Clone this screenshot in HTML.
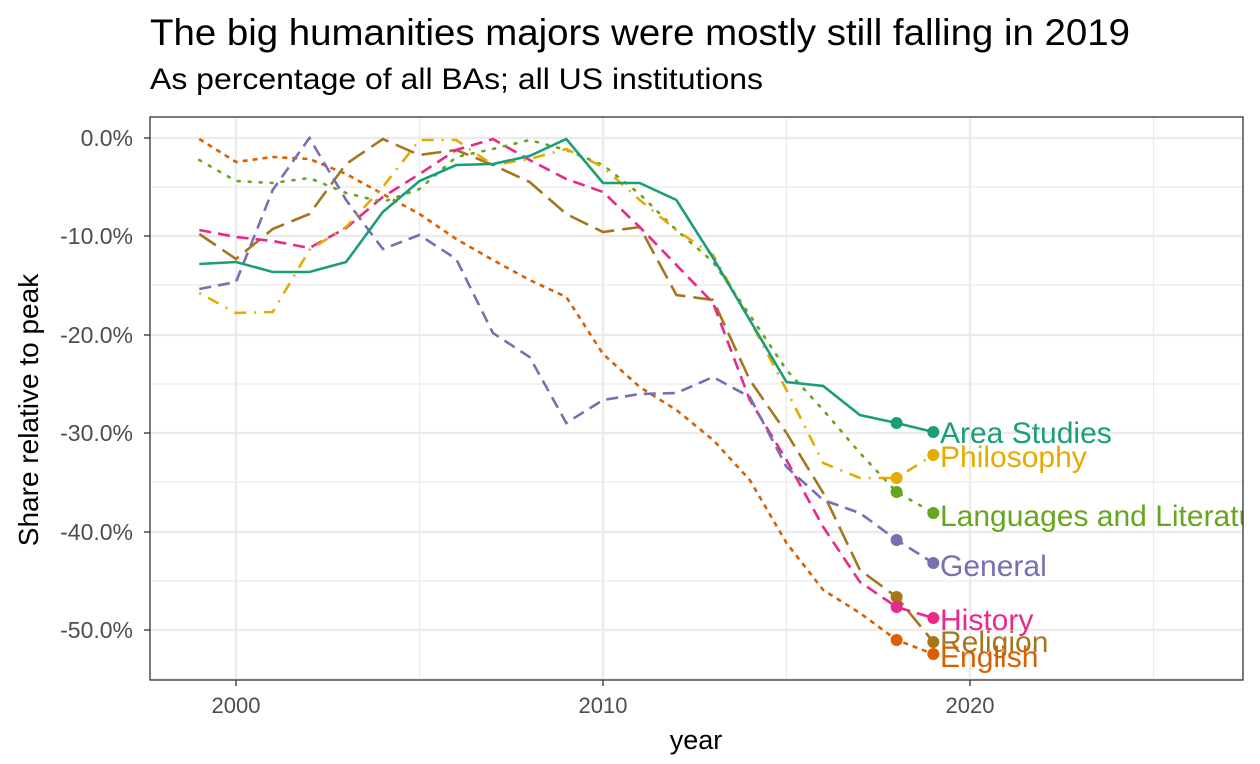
<!DOCTYPE html>
<html><head><meta charset="utf-8"><style>
html,body{margin:0;padding:0;background:#fff;}
svg{display:block;font-family:"Liberation Sans",sans-serif;}
</style></head><body>
<svg width="1260" height="764" xmlns="http://www.w3.org/2000/svg">
<text x="150" y="45" font-size="37.5" fill="#000" textLength="980" lengthAdjust="spacingAndGlyphs">The big humanities majors were mostly still falling in 2019</text>
<text x="150" y="89" font-size="30" fill="#000" textLength="613" lengthAdjust="spacingAndGlyphs">As percentage of all BAs; all US institutions</text>
<defs><clipPath id="c"><rect x="150" y="117" width="1093" height="563"/></clipPath></defs>
<g stroke="#ebebeb" stroke-width="1.2">
<line x1="419.5" x2="419.5" y1="117" y2="680"/><line x1="786.5" x2="786.5" y1="117" y2="680"/><line x1="1153.5" x2="1153.5" y1="117" y2="680"/>
<line x1="150" x2="1243" y1="187" y2="187"/><line x1="150" x2="1243" y1="285" y2="285"/><line x1="150" x2="1243" y1="384" y2="384"/><line x1="150" x2="1243" y1="482" y2="482"/><line x1="150" x2="1243" y1="581" y2="581"/><line x1="150" x2="1243" y1="679" y2="679"/>
</g>
<g stroke="#ebebeb" stroke-width="2.4">
<line x1="236" x2="236" y1="117" y2="680"/><line x1="603" x2="603" y1="117" y2="680"/><line x1="970" x2="970" y1="117" y2="680"/>
<line x1="150" x2="1243" y1="138" y2="138"/><line x1="150" x2="1243" y1="236" y2="236"/><line x1="150" x2="1243" y1="335" y2="335"/><line x1="150" x2="1243" y1="433" y2="433"/><line x1="150" x2="1243" y1="532" y2="532"/><line x1="150" x2="1243" y1="630" y2="630"/>
</g>
<g clip-path="url(#c)" fill="none" stroke-width="2.6">
<polyline stroke="#d95f02" stroke-dasharray="5,5" points="199.3,139 236,162 272.7,157 309.4,159 346.1,174 382.8,194 419.5,214 456.2,239 492.9,260 529.6,280 566.3,297 603,354 639.7,387 676.4,410 713.1,440 749.8,480 786.5,543 823.2,590 859.9,613 896.6,640 933.3,654"/>
<polyline stroke="#a6761d" stroke-dasharray="20,8" points="199.3,234 236,259 272.7,229 309.4,214 346.1,164 382.8,139 419.5,155 456.2,150 492.9,165 529.6,182 566.3,214 603,232 639.7,227 676.4,295 713.1,300 749.8,380 786.5,433 823.2,493 859.9,570 896.6,597 933.3,642"/>
<polyline stroke="#e7298a" stroke-dasharray="12,7" points="199.3,230 236,237 272.7,241 309.4,248 346.1,228 382.8,197 419.5,174 456.2,150 492.9,139 529.6,160 566.3,179 603,192 639.7,227 676.4,265 713.1,303 749.8,400 786.5,460 823.2,527 859.9,582 896.6,607 933.3,618"/>
<polyline stroke="#7570b3" stroke-dasharray="12,7" points="199.3,289 236,282 272.7,190 309.4,138 346.1,200 382.8,249 419.5,235 456.2,259 492.9,333 529.6,357 566.3,423 603,400 639.7,394 676.4,393 713.1,377 749.8,397 786.5,467 823.2,500 859.9,513 896.6,540 933.3,563"/>
<polyline stroke="#66a61e" stroke-dasharray="2,9" stroke-linecap="round" points="199.3,160 236,181 272.7,183 309.4,178 346.1,193 382.8,202 419.5,189 456.2,157 492.9,149 529.6,140 566.3,150 603,165 639.7,194 676.4,230 713.1,262 749.8,315 786.5,370 823.2,410 859.9,453 896.6,492 933.3,513"/>
<polyline stroke="#e6ab02" stroke-dasharray="2,8,12,8" points="199.3,293 236,313 272.7,312 309.4,250 346.1,227 382.8,187 419.5,140 456.2,140 492.9,165 529.6,159 566.3,149 603,167 639.7,200 676.4,230 713.1,255 749.8,320 786.5,390 823.2,463 859.9,478 896.6,478 933.3,455"/>
<polyline stroke="#1b9e77" points="199.3,264 236,262 272.7,272 309.4,272 346.1,262 382.8,212 419.5,181 456.2,165 492.9,164 529.6,156 566.3,139 603,183 639.7,183 676.4,200 713.1,258 749.8,320 786.5,382 823.2,386 859.9,415 896.6,423 933.3,432"/>
<g stroke="none">
<circle cx="896.6" cy="640" r="6" fill="#d95f02"/><circle cx="933.3" cy="654" r="6" fill="#d95f02"/>
<circle cx="896.6" cy="597" r="6" fill="#a6761d"/><circle cx="933.3" cy="642" r="6" fill="#a6761d"/>
<circle cx="896.6" cy="607" r="6" fill="#e7298a"/><circle cx="933.3" cy="618" r="6" fill="#e7298a"/>
<circle cx="896.6" cy="540" r="6" fill="#7570b3"/><circle cx="933.3" cy="563" r="6" fill="#7570b3"/>
<circle cx="896.6" cy="492" r="6" fill="#66a61e"/><circle cx="933.3" cy="513" r="6" fill="#66a61e"/>
<circle cx="896.6" cy="478" r="6" fill="#e6ab02"/><circle cx="933.3" cy="455" r="6" fill="#e6ab02"/>
<circle cx="896.6" cy="423" r="6" fill="#1b9e77"/><circle cx="933.3" cy="432" r="6" fill="#1b9e77"/>
</g>
<g stroke="none" font-size="30">
<text x="940" y="443" fill="#1b9e77">Area Studies</text>
<text x="940" y="467" fill="#e6ab02">Philosophy</text>
<text x="940" y="526" fill="#66a61e">Languages and Literature</text>
<text x="940" y="576" fill="#7570b3">General</text>
<text x="940" y="630" fill="#e7298a">History</text>
<text x="940" y="652" fill="#a6761d">Religion</text>
<text x="940" y="667" fill="#d95f02">English</text>
</g>
</g>
<rect x="150" y="117" width="1093" height="563" fill="none" stroke="#333" stroke-width="1.3"/>
<g font-size="23" fill="#4d4d4d" text-anchor="end">
<text x="133" y="146">0.0%</text><text x="133" y="244">-10.0%</text><text x="133" y="343">-20.0%</text><text x="133" y="441">-30.0%</text><text x="133" y="540">-40.0%</text><text x="133" y="638">-50.0%</text>
</g>
<g stroke="#333" stroke-width="1.3">
<line x1="144" x2="150" y1="138" y2="138"/><line x1="144" x2="150" y1="236" y2="236"/><line x1="144" x2="150" y1="335" y2="335"/><line x1="144" x2="150" y1="433" y2="433"/><line x1="144" x2="150" y1="532" y2="532"/><line x1="144" x2="150" y1="630" y2="630"/>
<line x1="236" x2="236" y1="680" y2="686"/><line x1="603" x2="603" y1="680" y2="686"/><line x1="970" x2="970" y1="680" y2="686"/>
</g>
<g font-size="22" fill="#4d4d4d" text-anchor="middle">
<text x="236" y="713">2000</text><text x="603" y="713">2010</text><text x="970" y="713">2020</text>
</g>
<text x="696" y="749" font-size="27" text-anchor="middle">year</text>
<text transform="translate(38,410) rotate(-90)" font-size="28" text-anchor="middle">Share relative to peak</text>
</svg>
</body></html>
